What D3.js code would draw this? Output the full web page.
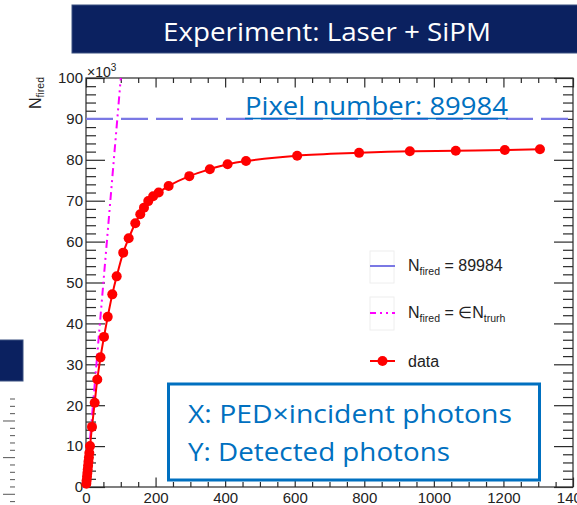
<!DOCTYPE html>
<html>
<head>
<meta charset="utf-8">
<script src="https://cdn.jsdelivr.net/npm/d3@7"></script>
<style>
  html, body { margin: 0; padding: 0; background: #fff; overflow: hidden; }
  svg { display: block; }
</style>
</head>
<body>
<svg id="chart" width="577" height="505"></svg>
<script>
// Measured photon counts (x: PED × incident photons, y: fired pixels in units of 10^3)
const dataX = [0.9, 1.8, 2.9, 3.9, 4.9, 6.0, 7.1, 8.3, 9.5,
  11.5, 17.2, 25.0, 32.5, 41.7, 51.7, 62.4, 75.6, 88.2, 107, 122.7,
  141.7, 156, 166.7, 179, 193, 209, 237.6, 297, 356, 407, 460,
  607, 785, 931, 1063, 1204, 1305];
const dataY = [0.8, 1.6, 2.5, 3.4, 4.3, 5.2, 6.2, 7.2, 8.3,
  10.0, 14.7, 20.6, 26.3, 31.7, 36.7, 41.6, 47.1, 51.5, 57.3, 60.8,
  64.5, 66.7, 68.3, 69.9, 71.1, 72.0, 73.6, 76.0, 77.7, 78.9, 79.7,
  81.0, 81.7, 82.1, 82.2, 82.4, 82.6];

// Saturation level (total pixel count, in 10^3) and ideal response N = εN_truth
const pixelCount = 89.984;
const idealX = [0, 100];
const idealY = [0, 100];

const xDomain = [0, 1400];
const yDomain = [0, 100];
const xMajorTicks = [0, 200, 400, 600, 800, 1000, 1200, 1400];
const yMajorTicks = [0, 10, 20, 30, 40, 50, 60, 70, 80, 90, 100];
const xMinorStep = 50;
const yMinorStep = 2;

const titleText = "Experiment: Laser + SiPM";
const pixelNote = "Pixel number: 89984";
const boxLines = ["X: PED×incident photons", "Y: Detected photons"];

const svg = d3.select("#chart");
const W = 577, H = 505;
const plot = { left: 86, right: 573, top: 78, bottom: 487 };

const x = d3.scaleLinear().domain(xDomain).range([plot.left, plot.right]);
const y = d3.scaleLinear().domain(yDomain).range([plot.bottom, plot.top]);

const axisFont = "'Liberation Sans', Arial, Helvetica, sans-serif";
const slideFont = "'Open Sans', 'Noto Sans', sans-serif";
const axisColor = "#2a2a2a";

// ---- Title banner
svg.append("rect")
  .attr("x", 72).attr("y", 5).attr("width", W - 72 + 4).attr("height", 48)
  .attr("fill", "#0b2160").attr("stroke", "#3a5080").attr("stroke-width", 1);
svg.append("text")
  .attr("x", 327).attr("y", 41)
  .attr("text-anchor", "middle")
  .attr("font-family", slideFont).attr("font-size", 26)
  .attr("fill", "#ffffff")
  .attr("textLength", 328).attr("lengthAdjust", "spacingAndGlyphs")
  .text(titleText);

// ---- Neighbouring slide element on the left edge
svg.append("rect")
  .attr("x", -3).attr("y", 340).attr("width", 26).attr("height", 41)
  .attr("fill", "#0b2160").attr("stroke", "#3a5080").attr("stroke-width", 1);
const sideTicks = d3.range(0, 15).map(i => 399 + i * 7.33);
svg.append("g").selectAll("line").data(sideTicks).join("line")
  .attr("x1", (d, i) => (i % 5 === 3 ? 3 : 10)).attr("x2", 15)
  .attr("y1", d => d).attr("y2", d => d)
  .attr("stroke", "#555").attr("stroke-width", 1);

// ---- Plot frame
svg.append("rect")
  .attr("x", plot.left).attr("y", plot.top)
  .attr("width", plot.right - plot.left).attr("height", plot.bottom - plot.top)
  .attr("fill", "none").attr("stroke", axisColor).attr("stroke-width", 1.2);

function minorValues(domain, step, majors) {
  return d3.range(domain[0], domain[1] + 1e-9, step).filter(v => !majors.includes(v));
}
const xMinor = minorValues(xDomain, xMinorStep, xMajorTicks);
const yMinor = minorValues(yDomain, yMinorStep, yMajorTicks);

function styleAxis(g) {
  g.select(".domain").remove();
  g.selectAll("line").attr("stroke", axisColor).attr("stroke-width", 1.2);
  g.selectAll("text").attr("fill", "#222").attr("font-family", axisFont).attr("font-size", 15);
}

// bottom axis (ticks pointing inward)
svg.append("g").attr("transform", `translate(0,${plot.bottom})`)
  .call(d3.axisBottom(x).tickValues(xMajorTicks).tickSize(-9.5).tickSizeOuter(0).tickPadding(5).tickFormat(d3.format("d")))
  .call(styleAxis);
svg.append("g").attr("transform", `translate(0,${plot.bottom})`)
  .call(d3.axisBottom(x).tickValues(xMinor).tickSize(-5).tickSizeOuter(0).tickFormat(""))
  .call(styleAxis);
// top axis
svg.append("g").attr("transform", `translate(0,${plot.top})`)
  .call(d3.axisTop(x).tickValues(xMajorTicks).tickSize(-9.5).tickSizeOuter(0).tickFormat(""))
  .call(styleAxis);
svg.append("g").attr("transform", `translate(0,${plot.top})`)
  .call(d3.axisTop(x).tickValues(xMinor).tickSize(-5).tickSizeOuter(0).tickFormat(""))
  .call(styleAxis);
// left axis
svg.append("g").attr("transform", `translate(${plot.left},0)`)
  .call(d3.axisLeft(y).tickValues(yMajorTicks).tickSize(-19).tickSizeOuter(0).tickPadding(3).tickFormat(d3.format("d")))
  .call(styleAxis);
svg.append("g").attr("transform", `translate(${plot.left},0)`)
  .call(d3.axisLeft(y).tickValues(yMinor).tickSize(-10).tickSizeOuter(0).tickFormat(""))
  .call(styleAxis);
// right axis
svg.append("g").attr("transform", `translate(${plot.right},0)`)
  .call(d3.axisRight(y).tickValues(yMajorTicks).tickSize(-19).tickSizeOuter(0).tickFormat(""))
  .call(styleAxis);
svg.append("g").attr("transform", `translate(${plot.right},0)`)
  .call(d3.axisRight(y).tickValues(yMinor).tickSize(-10).tickSizeOuter(0).tickFormat(""))
  .call(styleAxis);

// exponent label ×10^3
const expo = svg.append("text")
  .attr("x", 87).attr("y", 77)
  .attr("font-family", axisFont).attr("font-size", 14).attr("fill", "#222");
expo.append("tspan").text("×10");
expo.append("tspan").attr("font-size", 10).attr("dy", -6).text("3");

// y axis title N_fired
const yTitle = svg.append("text")
  .attr("transform", "translate(41,77) rotate(-90)")
  .attr("text-anchor", "end")
  .attr("font-family", axisFont).attr("font-size", 16).attr("fill", "#222");
yTitle.append("tspan").text("N");
yTitle.append("tspan").attr("font-size", 10.5).attr("dy", 3).text("fired");

// ---- Saturation line (pixel count)
const lineGen = d3.line().x(d => x(d[0])).y(d => y(d[1]));
svg.append("path")
  .datum([[xDomain[0], pixelCount], [xDomain[1], pixelCount]])
  .attr("d", lineGen)
  .attr("fill", "none").attr("stroke", "#7a78e4").attr("stroke-width", 2.2)
  .attr("stroke-dasharray", "27,8");

// ---- Ideal linear response
const clipId = "plotClip";
svg.append("clipPath").attr("id", clipId).append("rect")
  .attr("x", plot.left).attr("y", plot.top)
  .attr("width", plot.right - plot.left).attr("height", plot.bottom - plot.top);
svg.append("path")
  .datum(idealX.map((v, i) => [v, idealY[i]]))
  .attr("d", lineGen)
  .attr("clip-path", `url(#${clipId})`)
  .attr("fill", "none").attr("stroke", "#ff00ff").attr("stroke-width", 2)
  .attr("stroke-dasharray", "8,4,2,4,2,4");

// ---- Note text above the saturation line
svg.append("text")
  .attr("x", 245).attr("y", 115)
  .attr("font-family", slideFont).attr("font-size", 25).attr("fill", "#0070c0")
  .attr("textLength", 263).attr("lengthAdjust", "spacingAndGlyphs")
  .text(pixelNote);
svg.append("line")
  .attr("x1", 245).attr("x2", 508).attr("y1", 118.5).attr("y2", 118.5)
  .attr("stroke", "#0070c0").attr("stroke-width", 1.5);

// ---- Data curve and markers
const pts = dataX.map((v, i) => [v, dataY[i]]);
svg.append("path")
  .datum(pts)
  .attr("d", d3.line().x(d => x(d[0])).y(d => y(d[1])).curve(d3.curveCatmullRom.alpha(0.5)))
  .attr("fill", "none").attr("stroke", "#ff0000").attr("stroke-width", 2);
svg.append("g").selectAll("circle").data(pts).join("circle")
  .attr("cx", d => x(d[0])).attr("cy", d => y(d[1]))
  .attr("r", 5).attr("fill", "#ff0000");

// ---- Legend
const legend = svg.append("g").attr("font-family", axisFont).attr("fill", "#222");
const legX0 = 370, legX1 = 395, legTextX = 408;
// entry 1
legend.append("rect").attr("x", 370).attr("y", 251).attr("width", 24).attr("height", 32)
  .attr("fill", "none").attr("stroke", "#eeeeee");
legend.append("line").attr("x1", legX0).attr("x2", legX1).attr("y1", 266).attr("y2", 266)
  .attr("stroke", "#7a78e4").attr("stroke-width", 2);
let t1 = legend.append("text").attr("x", legTextX).attr("y", 271).attr("font-size", 16);
t1.append("tspan").text("N");
t1.append("tspan").attr("font-size", 10.5).attr("dy", 4).text("fired");
t1.append("tspan").attr("dy", -4).text(" = 89984");
// entry 2
legend.append("rect").attr("x", 370).attr("y", 297).attr("width", 24).attr("height", 33)
  .attr("fill", "none").attr("stroke", "#eeeeee");
legend.append("line").attr("x1", legX0).attr("x2", legX1).attr("y1", 313).attr("y2", 313)
  .attr("stroke", "#ff00ff").attr("stroke-width", 2).attr("stroke-dasharray", "6,4,2,4,2,4");
let t2 = legend.append("text").attr("x", legTextX).attr("y", 318).attr("font-size", 16);
t2.append("tspan").text("N");
t2.append("tspan").attr("font-size", 10.5).attr("dy", 4).text("fired");
t2.append("tspan").attr("dy", -4).text(" = ∈N");
t2.append("tspan").attr("font-size", 10.5).attr("dy", 4).text("trurh");
// entry 3
legend.append("line").attr("x1", legX0).attr("x2", legX1).attr("y1", 361).attr("y2", 361)
  .attr("stroke", "#ff0000").attr("stroke-width", 2);
legend.append("circle").attr("cx", 382.5).attr("cy", 361).attr("r", 5).attr("fill", "#ff0000");
legend.append("text").attr("x", legTextX).attr("y", 367).attr("font-size", 16).text("data");

// ---- Axis description box
svg.append("rect")
  .attr("x", 168.5).attr("y", 384).attr("width", 371).attr("height", 96)
  .attr("fill", "#ffffff").attr("stroke", "#0070c0").attr("stroke-width", 3);
svg.append("text")
  .attr("x", 188).attr("y", 423)
  .attr("font-family", slideFont).attr("font-size", 26).attr("fill", "#0070c0")
  .attr("textLength", 324).attr("lengthAdjust", "spacingAndGlyphs")
  .text(boxLines[0]);
svg.append("text")
  .attr("x", 188).attr("y", 461)
  .attr("font-family", slideFont).attr("font-size", 26).attr("fill", "#0070c0")
  .attr("textLength", 262).attr("lengthAdjust", "spacingAndGlyphs")
  .text(boxLines[1]);
</script>
</body>
</html>
